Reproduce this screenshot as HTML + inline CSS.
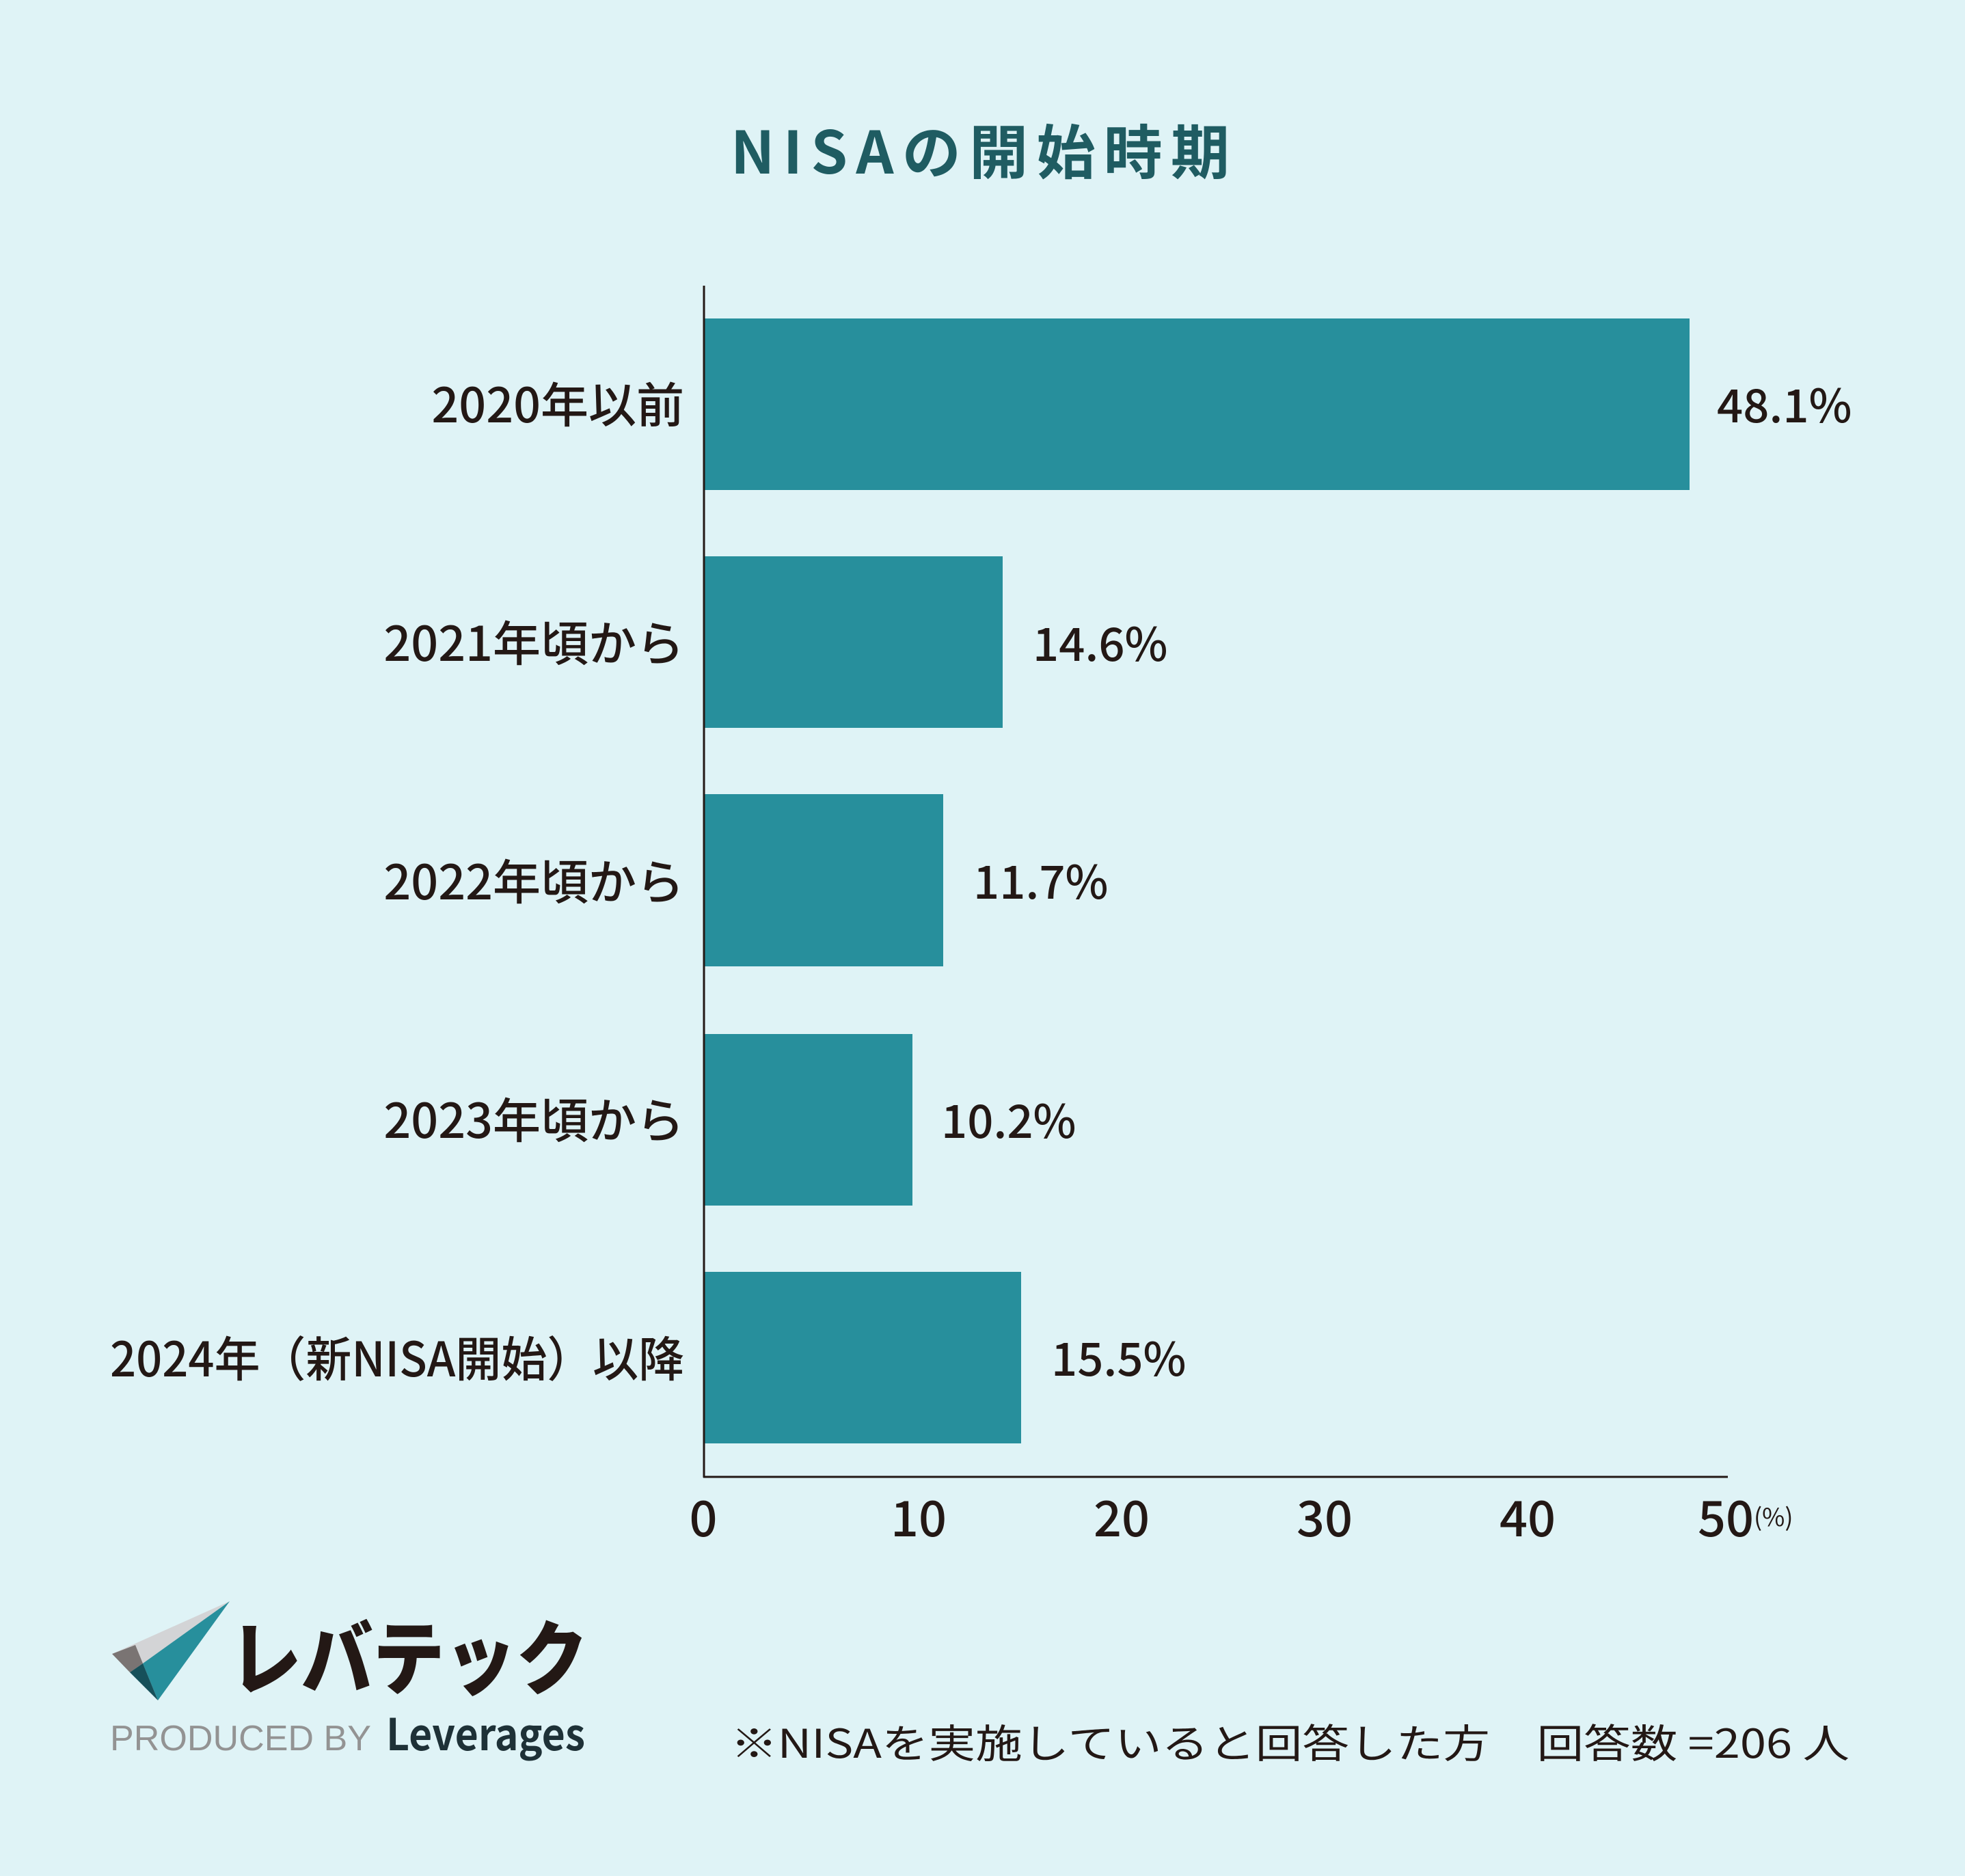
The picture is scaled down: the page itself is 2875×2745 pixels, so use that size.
<!DOCTYPE html>
<html><head><meta charset="utf-8"><style>
html,body{margin:0;padding:0;background:#dff3f6;}
svg{display:block}
</style></head><body>
<svg width="2875" height="2745" viewBox="0 0 2875 2745" xmlns="http://www.w3.org/2000/svg">
<rect width="2875" height="2745" fill="#dff3f6"/>
<text x="1069" y="254" font-family="'Noto Sans CJK JP',sans-serif" font-weight="bold" font-size="86" fill="#1f5c62" textLength="730" lengthAdjust="spacing">NISAの開始時期</text>
<g fill="#278f9c">
<rect x="1029" y="466" width="1443" height="251"/>
<rect x="1029" y="814" width="438" height="251"/>
<rect x="1029" y="1162" width="351" height="252"/>
<rect x="1029" y="1513" width="306" height="251"/>
<rect x="1029" y="1861" width="465" height="251"/>
</g>
<line x1="1030" y1="418" x2="1030" y2="2162" stroke="#231815" stroke-width="3"/>
<line x1="1029" y1="2161" x2="2528" y2="2161" stroke="#231815" stroke-width="3"/>
<g font-family="'Noto Sans CJK JP',sans-serif" font-size="70" fill="#231815" font-weight="500" text-anchor="end">
<text x="1001" y="618">2020年以前</text>
<text x="1001" y="967">2021年頃から</text>
<text x="1001" y="1316">2022年頃から</text>
<text x="1001" y="1665">2023年頃から</text>
</g>
<text x="161" y="2014" font-family="'Noto Sans CJK JP',sans-serif" font-size="70" fill="#231815" font-weight="500" textLength="840" lengthAdjust="spacingAndGlyphs">2024年（新NISA開始）以降</text>
<g font-family="'Noto Sans CJK JP',sans-serif" font-size="67" fill="#231815" font-weight="500">
<text x="2512" y="618">48.1%</text>
<text x="1511" y="967">14.6%</text>
<text x="1424" y="1315">11.7%</text>
<text x="1377" y="1665">10.2%</text>
<text x="1538" y="2013">15.5%</text>
</g>
<g font-family="'Noto Sans CJK JP',sans-serif" font-size="72" fill="#231815" text-anchor="middle" font-weight="500">
<text x="1029" y="2248">0</text>
<text x="1344" y="2248">10</text>
<text x="1641" y="2248">20</text>
<text x="1938" y="2248">30</text>
<text x="2235" y="2248">40</text>
<text x="2525" y="2248">50</text>
</g>
<text x="2566" y="2233" font-family="'Noto Sans CJK JP',sans-serif" font-size="36" fill="#231815">(%)</text>
<polygon points="336,2343 164,2420 231,2488" fill="#d3d4d6"/>
<polygon points="336,2343 209,2434 231,2488" fill="#278f9c"/>
<polygon points="164,2420 198,2407 209,2434 190,2447" fill="#7a7473"/>
<polygon points="190,2447 209,2434 231,2488" fill="#16505a"/>
<text x="336" y="2470" font-family="'Noto Sans CJK JP',sans-serif" font-weight="900" font-size="118" fill="#231815" textLength="524" lengthAdjust="spacingAndGlyphs">レバテック</text>
<text x="161" y="2561" font-family="'Liberation Sans',sans-serif" font-size="52" fill="#939393" textLength="382" lengthAdjust="spacingAndGlyphs">PRODUCED BY</text>
<text x="565" y="2561" font-family="'Noto Sans CJK JP',sans-serif" font-weight="bold" font-size="64" fill="#1e3137" textLength="291" lengthAdjust="spacingAndGlyphs">Leverages</text>
<text x="1069" y="2572" font-family="'Noto Sans CJK JP',sans-serif" font-size="58" fill="#231815" textLength="1637" lengthAdjust="spacingAndGlyphs">※NISAを実施していると回答した方　回答数 =206 人</text>
</svg>
</body></html>
